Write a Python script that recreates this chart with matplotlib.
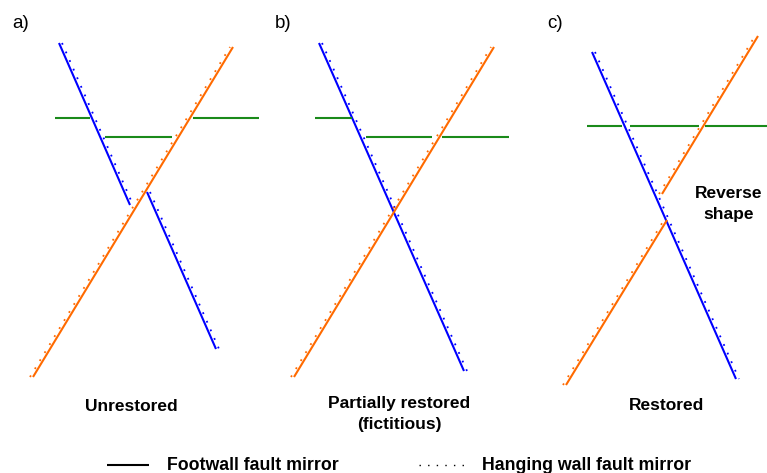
import matplotlib.pyplot as plt

plt.rcParams['font.family'] = ['Liberation Sans', 'DejaVu Sans']

# fault traces, (x0, y0, x1, y1) in picture pixels
blue_a = [(59, 43, 130, 205), (147, 192, 216, 349)]
orange_a = [(33, 377, 233, 47)]
green_a = [(55, 118, 90, 118), (105, 137, 172, 137), (193, 118, 259, 118)]

blue_b = [(319, 43, 464, 371)]
orange_b = [(294, 377, 494, 47)]
green_b = [(315, 118, 352, 118), (366, 137, 432, 137), (442, 137, 509, 137)]

blue_c = [(592, 52, 736, 379)]
orange_c = [(662, 194, 758, 36), (566, 385, 667, 220)]
green_c = [(587, 126, 622, 126), (630, 126, 699, 126), (705, 126, 767, 126)]

panel_tags = ["a)", "b)", "c)"]
tag_x = [12, 275, 547]
titles = ["Unrestored", "Partially restored\n(fictitious)", "Restored"]
title_x = [131, 399, 667]

BLUE = "#0000ff"
ORANGE = "#ff6a00"
GREEN = "#1a8a1a"
DOTS = (0, (1, 4.2))

fig = plt.figure(figsize=(7.67, 4.73), dpi=100)
ax = fig.add_axes([0, 0, 1, 1])
ax.set_xlim(0, 767)
ax.set_ylim(473, 0)
ax.axis("off")


def fault(segs, color, shift):
    for x0, y0, x1, y1 in segs:
        ax.plot([x0, x1], [y0, y1], color=color, lw=1.5, solid_capstyle="butt")
        ax.plot([x0 + shift, x1 + shift], [y0, y1], color=color, lw=1.3, ls=DOTS)


for segs in [blue_a, blue_b, blue_c]:
    fault(segs, BLUE, 3)
for segs in [orange_a, orange_b, orange_c]:
    fault(segs, ORANGE, -3)
for segs in [green_a, green_b, green_c]:
    for x0, y0, x1, y1 in segs:
        ax.plot([x0, x1], [y0, y1], color=GREEN, lw=1.5, solid_capstyle="butt")

for t, x in zip(panel_tags, tag_x):
    ax.text(x, 23, t, fontsize=13.5, ha="left", va="center")

ax.text(title_x[0], 406, titles[0], fontsize=12.5, fontweight="bold", ha="center", va="center")
ax.text(title_x[1], 414, titles[1], fontsize=12.5, fontweight="bold", ha="center", va="center",
        linespacing=1.55)
ax.text(title_x[2], 405, titles[2], fontsize=12.5, fontweight="bold", ha="center", va="center")
ax.text(729, 204, "Reverse\nshape", fontsize=12.5, fontweight="bold", ha="center", va="center",
        linespacing=1.42)

# legend
ax.plot([107, 149], [465, 465], color="black", lw=1.5, solid_capstyle="butt")
ax.text(167, 465, "Footwall fault mirror", fontsize=12.8, fontweight="bold", ha="left", va="center")
ax.plot([419, 465], [465, 465], color="black", lw=1.0, ls=(0, (1, 5.2)))
ax.text(482, 465, "Hanging wall fault mirror", fontsize=12.8, fontweight="bold", ha="left", va="center")

plt.savefig("out.png", dpi=100)
plt.close()
